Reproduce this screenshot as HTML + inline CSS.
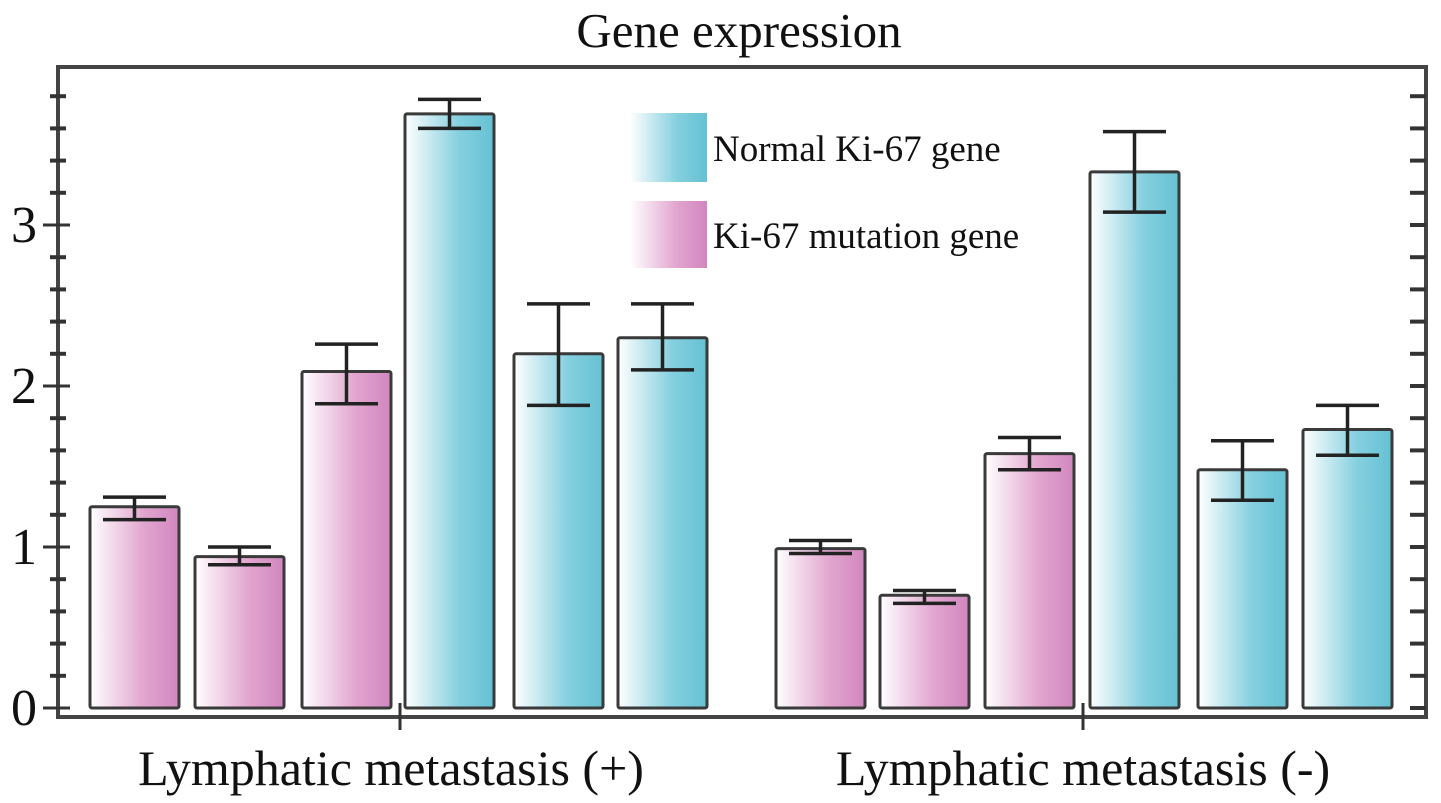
<!DOCTYPE html>
<html><head><meta charset="utf-8"><style>
body{margin:0;background:#fff;}
svg{display:block;font-family:"Liberation Serif",serif;}
</style></head><body>
<svg id="c" width="1441" height="803" viewBox="0 0 1441 803">
<defs>
<linearGradient id="gp" x1="0" x2="1" y1="0" y2="0"><stop offset="0" stop-color="#ffffff"/><stop offset="0.6" stop-color="#e2a6cf"/><stop offset="1" stop-color="#d186be"/></linearGradient>
<linearGradient id="gt" x1="0" x2="1" y1="0" y2="0"><stop offset="0" stop-color="#ffffff"/><stop offset="0.6" stop-color="#86d0df"/><stop offset="1" stop-color="#64c1d3"/></linearGradient>
</defs>
<text x="739" y="47" text-anchor="middle" font-size="49" fill="#111">Gene expression</text>
<g id="axes"></g>
<g id="bars"></g>
<g>
<rect x="630" y="113" width="77" height="69" fill="url(#gt)"/>
<text x="713" y="161" font-size="37" fill="#111">Normal Ki-67 gene</text>
<rect x="630" y="201" width="77" height="67" fill="url(#gp)"/>
<text x="713" y="248" font-size="37" fill="#111">Ki-67 mutation gene</text>
</g>
<text x="391" y="785" text-anchor="middle" font-size="50" fill="#111">Lymphatic metastasis (+)</text>
<text x="1083" y="785" text-anchor="middle" font-size="50" fill="#111">Lymphatic metastasis (-)</text>
</svg>
<script>
const categories=["L+ mut1","L+ mut2","L+ mut3","L+ norm1","L+ norm2","L+ norm3","L- mut1","L- mut2","L- mut3","L- norm1","L- norm2","L- norm3"];
const values=[1.25,0.94,2.09,3.69,2.20,2.30,0.99,0.70,1.58,3.33,1.48,1.73];
const errHigh=[1.31,1.00,2.26,3.78,2.51,2.51,1.04,0.73,1.68,3.58,1.66,1.88];
const errLow=[1.17,0.89,1.89,3.60,1.88,2.10,0.96,0.65,1.48,3.08,1.29,1.57];
const kinds=["m","m","m","n","n","n","m","m","m","n","n","n"];
const yTicks=[0,1,2,3];
const NS="http://www.w3.org/2000/svg";
const y=v=>708-v*161;
const barX=[90,195,302,405,514,618,776,880,985,1090,1198,1303];
const barW=89;
function mk(t,a,p){const e=document.createElementNS(NS,t);for(const k in a)e.setAttribute(k,a[k]);p.appendChild(e);return e;}
const ax=document.getElementById('axes');
const frame=mk('rect',{x:58,y:67,width:1368,height:650,fill:'none',stroke:'#444','stroke-width':4},ax);


for(let i=0;i<=19;i++){const v=i*0.2;const yy=y(v);if(yy<70)continue;const major=i%5===0;
 const t=mk('line',{x1:major?43:50,x2:major?70:66,y1:yy,y2:yy,stroke:'#333','stroke-width':major?3:4},ax);
 
 
 const r=mk('line',{x1:1410,x2:1426,y1:yy,y2:yy,stroke:'#333','stroke-width':4},ax);
 
 }
yTicks.forEach(v=>{const t=mk('text',{x:37,y:y(v)+17,'text-anchor':'end','font-size':52,fill:'#111'},ax);t.textContent=v;
 
 });
[400,1083].forEach(x=>{const t=mk('line',{x1:x,x2:x,y1:703,y2:730,stroke:'#333','stroke-width':3},ax);
 
 });
const bg=document.getElementById('bars');
values.forEach((v,i)=>{
 const b=mk('rect',{x:barX[i],y:y(v),width:barW,height:y(0)-y(v),fill:kinds[i]==='m'?'url(#gp)':'url(#gt)',stroke:'#3a3a3a','stroke-width':3,rx:2},bg);
 
 
 const cx=barX[i]+barW/2;
 const e=mk('path',{d:`M${cx},${y(errHigh[i])}V${y(errLow[i])}M${barX[i]+13},${y(errHigh[i])}H${barX[i]+barW-13}M${barX[i]+13},${y(errLow[i])}H${barX[i]+barW-13}`,stroke:'#222','stroke-width':3.5,fill:'none'},bg);
 
 
});
</script>
</body></html>
